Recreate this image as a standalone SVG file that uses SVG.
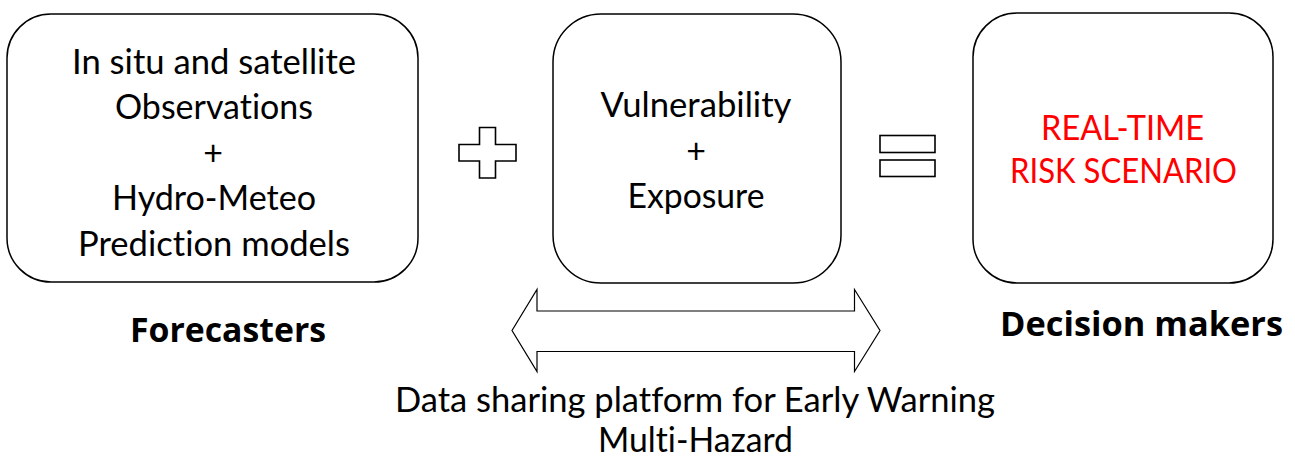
<svg xmlns="http://www.w3.org/2000/svg" width="1295" height="459" viewBox="0 0 1295 459">
  <style>
    .box { fill: #ffffff; stroke: #000000; stroke-width: 1.5; }
    .sym { fill: #ffffff; stroke: #000000; stroke-width: 1.6; }
    .t { font-family: Lato, "Open Sans", "Liberation Sans", sans-serif; font-size: 34px; fill: #000000; text-anchor: middle; font-variant-ligatures: none; }
    .red { fill: #ff0000; }
    .b { font-family: "Open Sans", "Liberation Sans", sans-serif; font-weight: bold; font-size: 34px; fill: #000000; text-anchor: middle; }
  </style>
  <rect width="1295" height="459" fill="#ffffff"/>

  <g id="forecast-box">
    <rect class="box" x="7" y="14" width="411" height="268" rx="44" ry="44"/>
    <text class="t" x="214" y="73.5" textLength="284" lengthAdjust="spacingAndGlyphs">In situ and satellite</text>
    <text class="t" x="214" y="119" textLength="198" lengthAdjust="spacingAndGlyphs">Observations</text>
    <text class="t" x="213" y="164.5">+</text>
    <text class="t" x="214" y="210" textLength="204" lengthAdjust="spacingAndGlyphs">Hydro-Meteo</text>
    <text class="t" x="214" y="255.5" textLength="272" lengthAdjust="spacingAndGlyphs">Prediction models</text>
  </g>

  <g id="plus-symbol">
    <polygon class="sym" points="479.5,127.5 495.5,127.5 495.5,144.5 516,144.5 516,161 495.5,161 495.5,178 479.5,178 479.5,161 459,161 459,144.5 479.5,144.5"/>
  </g>

  <g id="vulnerability-box">
    <rect class="box" x="553" y="14" width="288" height="269" rx="48" ry="48"/>
    <text class="t" x="696" y="117" textLength="191" lengthAdjust="spacingAndGlyphs">Vulnerability</text>
    <text class="t" x="696" y="162.5">+</text>
    <text class="t" x="696" y="208" textLength="137" lengthAdjust="spacingAndGlyphs">Exposure</text>
  </g>

  <g id="equals-symbol">
    <rect class="sym" x="880" y="135.5" width="55" height="17"/>
    <rect class="sym" x="880" y="160" width="55" height="16.5"/>
  </g>

  <g id="risk-box">
    <rect class="box" x="973" y="13" width="300" height="270" rx="44" ry="44"/>
    <text class="t red" x="1122.5" y="139.5" textLength="163" lengthAdjust="spacingAndGlyphs">REAL-TIME</text>
    <text class="t red" x="1123.5" y="182.5" textLength="227" lengthAdjust="spacingAndGlyphs">RISK SCENARIO</text>
  </g>

  <g id="connectors">
    <polygon fill="#ffffff" stroke="#000000" stroke-width="1.2" points="512,330.5 537,289.5 537,311 854.5,311 854.5,289.5 880,330.5 854.5,371.5 854.5,351.5 537,351.5 537,371.5"/>
  </g>

  <g id="forecasters-label">
    <text class="b" x="228" y="342" textLength="196" lengthAdjust="spacingAndGlyphs">Forecasters</text>
  </g>

  <g id="decision-label">
    <text class="b" x="1141.5" y="336" textLength="283" lengthAdjust="spacingAndGlyphs">Decision makers</text>
  </g>

  <g id="platform-label">
    <text class="t" x="695" y="412" textLength="600" lengthAdjust="spacingAndGlyphs">Data sharing platform for Early Warning</text>
    <text class="t" x="695.5" y="452" textLength="195" lengthAdjust="spacingAndGlyphs">Multi-Hazard</text>
  </g>
</svg>
